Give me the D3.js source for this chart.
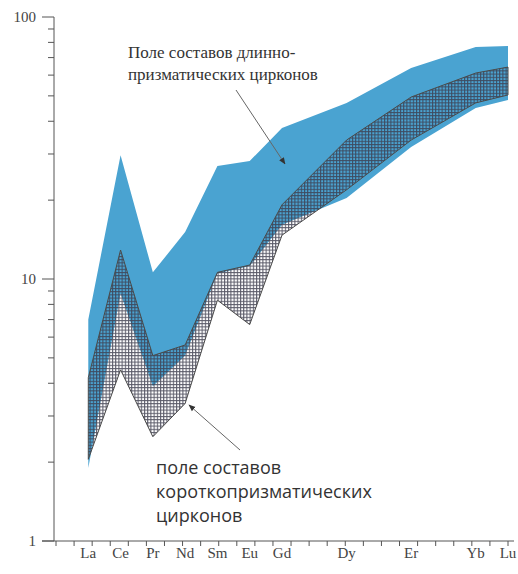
<!DOCTYPE html>
<html>
<head>
<meta charset="utf-8">
<script src="https://cdn.jsdelivr.net/npm/d3@7"></script>
<style>
  body { margin: 0; background: #fff; }
  .axis path, .axis line { stroke: #555; }
  .tick-label { font-family: "Liberation Serif", serif; fill: #444; font-size: 15px; }
  .note-top { font-family: "Liberation Serif", "DejaVu Serif", serif; font-size: 17px; fill: #333; }
  .note-bottom { font-family: "Open Sans", sans-serif; font-size: 18px; fill: #333; }
</style>
</head>
<body>
<svg class="chart"></svg>
<script>
var width = 518;
var height = 574;

// element sequence on the x axis (Pm omitted)
var seq = ["La", "Ce", "Pr", "Nd", "Sm", "Eu", "Gd", "Tb", "Dy", "Ho", "Er", "Tm", "Yb", "Lu"];
var elements = ["La", "Ce", "Pr", "Nd", "Sm", "Eu", "Gd", "Dy", "Er", "Yb", "Lu"];

// long-prismatic zircons (blue field)
var longUpper = [7.0, 29.7, 10.6, 15.1, 27.0, 28.2, 37.7, 47.0, 63.9, 76.8, 77.5];
var longLower = [1.9, 8.8, 3.9, 5.1, 10.5, 11.2, 16.1, 20.4, 31.9, 44.9, 48.2];

// short-prismatic zircons (hatched field)
var shortUpper = [4.2, 12.9, 5.1, 5.6, 10.6, 11.3, 19.2, 33.9, 49.5, 61.1, 64.4];
var shortLower = [2.05, 4.5, 2.5, 3.35, 8.3, 6.7, 14.7, 21.9, 33.9, 47.0, 50.4];

var yTicks = [1, 10, 100];
var yTickLabels = ["1", "10", "100"];

var labelTop = ["Поле составов длинно-", "призматических цирконов"];
var labelBottom = ["поле составов", "короткопризматических", "цирконов"];

var x = d3.scaleLinear().domain([-1, 13]).range([56, 508]);
var y = d3.scaleLog().domain([1, 100]).range([541, 17]);

var chart = d3.select(".chart")
    .attr("width", width)
    .attr("height", height);

var defs = chart.append("defs");
var pat = defs.append("pattern")
    .attr("id", "hatch")
    .attr("patternUnits", "userSpaceOnUse")
    .attr("width", 3.2)
    .attr("height", 3.2);
pat.append("path")
    .attr("d", "M0,0.5H3.2M0.5,0V3.2")
    .attr("stroke", "#3c3c4c")
    .attr("stroke-width", 1.1)
    .attr("stroke-opacity", 0.85);

var arrowHead = defs.append("marker")
    .attr("id", "arrow")
    .attr("viewBox", "0 0 10 10")
    .attr("refX", 9)
    .attr("refY", 5)
    .attr("markerWidth", 7)
    .attr("markerHeight", 7)
    .attr("orient", "auto");
arrowHead.append("path")
    .attr("d", "M0,1L10,5L0,9z")
    .attr("fill", "#333");

function pos(i) { return x(seq.indexOf(elements[i])); }

var areaOf = function(lo, hi) {
    return d3.area()
        .x(function(d, i) { return pos(i); })
        .y0(function(d, i) { return y(lo[i]); })
        .y1(function(d, i) { return y(hi[i]); });
};

chart.append("path")
    .datum(elements)
    .attr("d", areaOf(longLower, longUpper))
    .attr("fill", "#4aa3d1");

chart.append("path")
    .datum(elements)
    .attr("d", areaOf(shortLower, shortUpper))
    .attr("fill", "url(#hatch)")
    .attr("stroke", "#4a4a4a")
    .attr("stroke-width", 1);

// y axis
var yAxisG = chart.append("g").attr("class", "axis");
yAxisG.append("line")
    .attr("x1", 54).attr("x2", 54)
    .attr("y1", y(100)).attr("y2", y(1));
var minor = [];
[1, 10].forEach(function(b) {
    for (var k = 2; k <= 9; k++) minor.push(b * k);
});
yAxisG.selectAll("line.minor")
    .data(minor)
    .enter().append("line")
    .attr("class", "minor")
    .attr("x1", 48).attr("x2", 54)
    .attr("y1", function(d) { return y(d); })
    .attr("y2", function(d) { return y(d); });
yAxisG.selectAll("line.major")
    .data(yTicks)
    .enter().append("line")
    .attr("class", "major")
    .attr("x1", 42).attr("x2", 54)
    .attr("y1", function(d) { return y(d); })
    .attr("y2", function(d) { return y(d); });
yAxisG.selectAll("text")
    .data(yTicks)
    .enter().append("text")
    .attr("class", "tick-label")
    .attr("x", 36)
    .attr("y", function(d) { return y(d) + 5; })
    .attr("text-anchor", "end")
    .text(function(d, i) { return yTickLabels[i]; });

// x axis
var xAxisG = chart.append("g").attr("class", "axis");
xAxisG.append("line")
    .attr("x1", 42).attr("x2", 514)
    .attr("y1", y(1)).attr("y2", y(1));
xAxisG.selectAll("line.xt")
    .data(d3.range(26).map(function(i) { return -1 + i * 14 / 25; }))
    .enter().append("line")
    .attr("class", "xt")
    .attr("x1", function(d) { return x(d); })
    .attr("x2", function(d) { return x(d); })
    .attr("y1", y(1)).attr("y2", y(1) + 5);
xAxisG.selectAll("text")
    .data(elements)
    .enter().append("text")
    .attr("class", "tick-label")
    .attr("x", function(d, i) { return pos(i); })
    .attr("y", 558)
    .attr("text-anchor", "middle")
    .text(function(d) { return d; });

// annotations
chart.append("g").selectAll("text")
    .data(labelTop)
    .enter().append("text")
    .attr("class", "note-top")
    .attr("x", 128)
    .attr("y", function(d, i) { return 58 + i * 22; })
    .text(function(d) { return d; });

chart.append("g").selectAll("text")
    .data(labelBottom)
    .enter().append("text")
    .attr("class", "note-bottom")
    .attr("x", 156)
    .attr("y", function(d, i) { return 474 + i * 24; })
    .text(function(d) { return d; });

chart.append("line")
    .attr("x1", 236).attr("y1", 90)
    .attr("x2", 285).attr("y2", 164)
    .attr("stroke", "#666")
    .attr("stroke-width", 1)
    .attr("marker-end", "url(#arrow)");

chart.append("line")
    .attr("x1", 240).attr("y1", 450)
    .attr("x2", 189).attr("y2", 405)
    .attr("stroke", "#666")
    .attr("stroke-width", 1)
    .attr("marker-end", "url(#arrow)");
</script>
</body>
</html>
